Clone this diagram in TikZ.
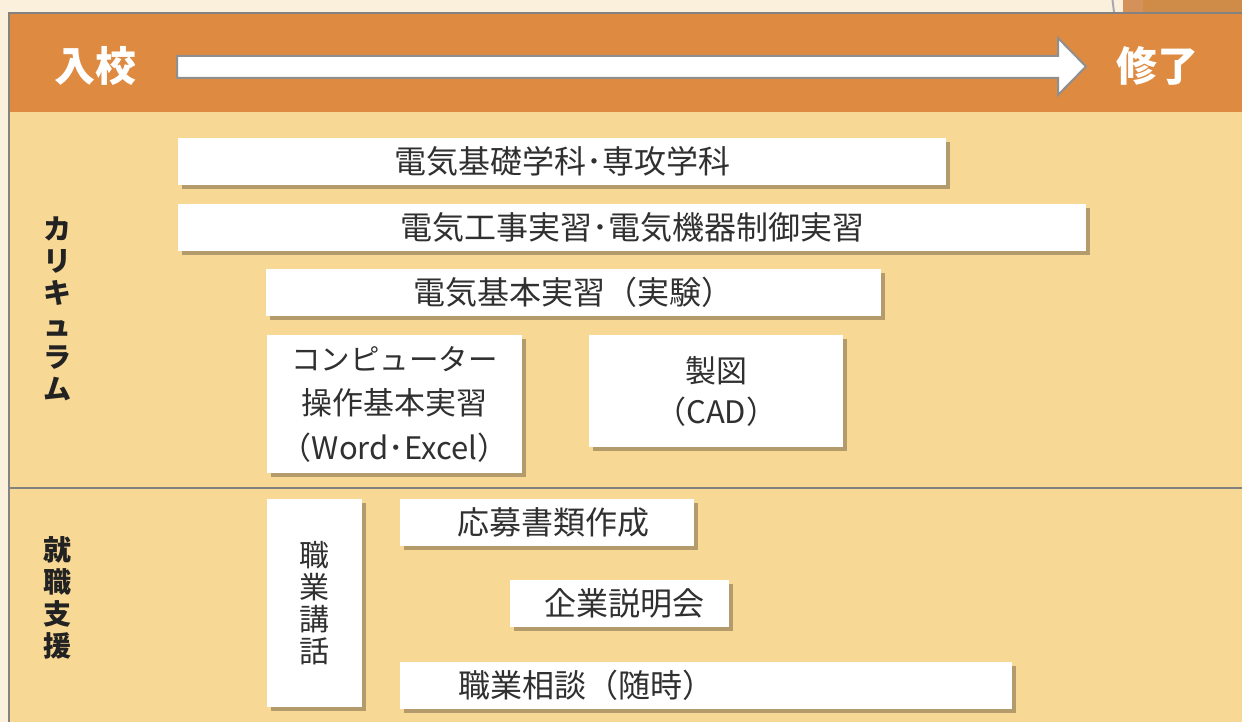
\documentclass[tikz,border=0pt]{standalone}
\usepackage{fontspec}
\setmainfont{Noto Sans CJK JP}
\usetikzlibrary{shadows}
\definecolor{outerbg}{HTML}{FAF0DB}
\definecolor{headc}{HTML}{DE8A41}
\definecolor{bodyc}{HTML}{F7D895}
\definecolor{framec}{HTML}{828282}
\definecolor{shadowc}{HTML}{B39B6B}
\definecolor{txtc}{HTML}{303030}
\definecolor{labc}{HTML}{222222}
\definecolor{arrowc}{HTML}{8F8F8F}
\definecolor{decoA}{HTML}{D4925A}
\definecolor{decoB}{HTML}{CF8C48}
\definecolor{decoL}{HTML}{A8A9B0}
\begin{document}
\begin{tikzpicture}[x=1pt,y=-1pt,
  box/.style={fill=white, text=txtc, inner sep=0pt, anchor=north west,
    font=\fontsize{32}{36}\selectfont,
    drop shadow={shadow xshift=3.5pt, shadow yshift=-3.5pt, fill=shadowc, opacity=1}},
  headtxt/.style={text=white, font=\fontsize{41}{41}\selectfont\bfseries, inner sep=0pt},
  sidelab/.style={text=labc, align=center, inner sep=0pt, font=\fontsize{28}{32}\selectfont\bfseries}]
\useasboundingbox (0,0) rectangle (1242,722);
% outer background
\fill[outerbg] (0,0) rectangle (1242,722);
% top-right decoration
\fill[decoA] (1123,0) rectangle (1143,12);
\fill[decoB] (1143,0) rectangle (1242,12);
\draw[decoL, line width=2pt] (1112.5,0) -- (1114,12);
% panel
\fill[bodyc] (9,13) rectangle (1242,722);
\fill[headc] (9,13) rectangle (1242,112);
\draw[framec, line width=2.5pt] (9,722) -- (9,13) -- (1242,13);
\draw[framec, line width=2.5pt] (9,488) -- (1242,488);
% header
\node[headtxt] (nyuko) at (95,66) {入校};
\node[headtxt] (shuryo) at (1157,66) {修了};
\draw[arrowc, fill=white, line width=2pt, line join=miter]
  (177,56) -- (1058,56) -- (1058,38) -- (1086,66.5) -- (1058,95) -- (1058,78) -- (177,78) -- cycle;
% side labels
\node[sidelab] (curr) at (57,308.5) {カ\\リ\\キ\\ュ\\ラ\\ム};
\node[sidelab] (shien) at (57,597.5) {就\\職\\支\\援};
% curriculum boxes
\node[box, minimum width=768pt, minimum height=47pt] (b1) at (178,138) {電気基礎学科･専攻学科};
\node[box, minimum width=908pt, minimum height=47pt] (b2) at (178,204) {電気工事実習･電気機器制御実習};
\node[box, minimum width=615pt, minimum height=47pt] (b3) at (266,269) {電気基本実習（実験）};
\node[box, minimum width=255pt, minimum height=138pt, align=center,
  font=\fontsize{31}{44.5}\selectfont] (b4) at (267,335) {{\fontsize{29.5}{44.5}\selectfont コンピューター}\\操作基本実習\\（Word･Excel）};
\node[box, minimum width=254pt, minimum height=112pt, align=center,
  font=\fontsize{31}{41}\selectfont] (b5) at (589,335) {製図\\（CAD）};
% job support boxes
\node[box, minimum width=95pt, minimum height=208pt, align=center,
  font=\fontsize{30}{32}\selectfont] (b6) at (267,499) {職\\業\\講\\話};
\node[box, minimum width=294pt, minimum height=47pt] (b7) at (400,499) {\hspace*{12pt}応募書類作成};
\node[box, minimum width=219pt, minimum height=47pt] (b8) at (510,580) {\hspace*{10pt}企業説明会};
\node[box, minimum height=47pt, text width=496pt, inner xsep=58pt, align=left] (b9) at (400,662) {職業相談（随時）};
\end{tikzpicture}
\end{document}
